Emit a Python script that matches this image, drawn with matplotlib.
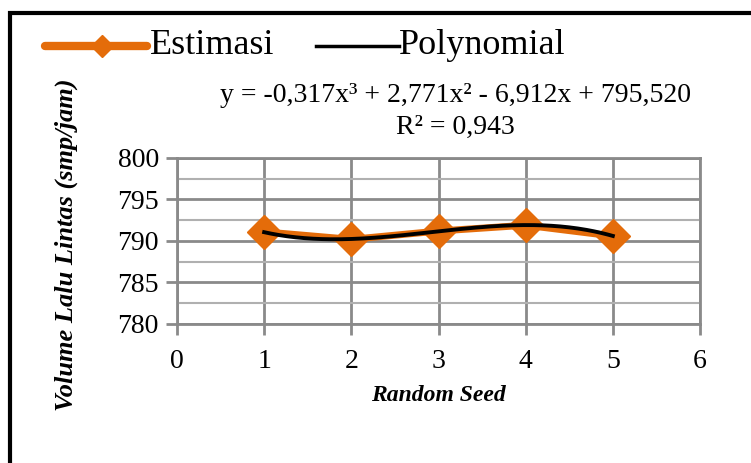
import matplotlib
matplotlib.use("Agg")
import matplotlib.pyplot as plt
import numpy as np
from matplotlib.patches import Rectangle
from matplotlib.lines import Line2D

seeds = [1, 2, 3, 4, 5]
estimasi = [791.1, 790.2, 791.2, 791.9, 790.6]
poly_coef = [-0.317, 2.771, -6.912, 795.520]
eq_text = "y = -0,317x³ + 2,771x² - 6,912x + 795,520"
r2_text = "R² = 0,943"
xticks = [0, 1, 2, 3, 4, 5, 6]
yticks = [780, 785, 790, 795, 800]
yminor = [782.5, 787.5, 792.5, 797.5]

plt.rcParams['font.family'] = ['Liberation Serif', 'DejaVu Serif']

fig = plt.figure(figsize=(7.51, 4.63), dpi=100)
ax = fig.add_axes([177/751, 1-324/463, (700-177)/751, (324-158)/463])

orange = '#E46C0A'
grid_c = '#8a8a8a'

xs = np.linspace(seeds[0], seeds[-1], 200)
ys = np.polyval(poly_coef, xs)
ax.plot(seeds, estimasi, color=orange, lw=5, marker='D', ms=17, zorder=3,
        solid_joinstyle='round')
ax.plot(xs, ys, color='black', lw=2.8, zorder=4)

ax.set_xlim(0, 6)
ax.set_ylim(780, 800)
ax.set_xticks(xticks)
ax.set_yticks(yticks)
ax.set_yticks(yminor, minor=True)
ax.set_xticklabels([str(v) for v in xticks], fontsize=20)
ax.set_yticklabels([str(v) for v in yticks], fontsize=20)
ax.grid(True, which='major', color=grid_c, lw=2)
ax.grid(True, which='minor', axis='y', color='#b0b0b0', lw=1.5)
ax.tick_params(axis='both', which='major', length=8, width=2, color=grid_c,
               direction='out', pad=5)
ax.tick_params(axis='y', which='minor', length=0)
ax.tick_params(axis='x', pad=10)
for s in ax.spines.values():
    s.set_color(grid_c)
    s.set_linewidth(2)

ax.set_xlabel("Random Seed", fontsize=17, fontweight='bold', fontstyle='italic',
              labelpad=8)
fig.text(66/751, 1-245/463, "Volume Lalu Lintas (smp/jam)", rotation=90,
         fontsize=19, fontweight='bold', fontstyle='italic', ha='center', va='center')

# equation
fig.text(455/751, 1-96/463, eq_text, fontsize=20, ha='center', va='center')
fig.text(455/751, 1-127/463, r2_text, fontsize=20, ha='center', va='center')

# legend
ly = 1-46/463
fig.add_artist(Line2D([45/751, 147/751], [ly, ly], color=orange, lw=6,
                      solid_capstyle='round'))
fig.add_artist(Line2D([102/751], [ly], color=orange, marker='D', ms=11))
fig.text(150/751, ly, "Estimasi", fontsize=26, ha='left', va='center')
fig.add_artist(Line2D([316/751, 399/751], [ly, ly], color='black', lw=2.5))
fig.text(399/751, ly, "Polynomial", fontsize=26, ha='left', va='center')

# border (top and left visible)
fig.add_artist(Rectangle((10/751, -0.1), 1.2, (463-13)/463 + 0.1,
                         transform=fig.transFigure, fill=False,
                         edgecolor='black', lw=3))

fig.savefig("out.png", dpi=100)
